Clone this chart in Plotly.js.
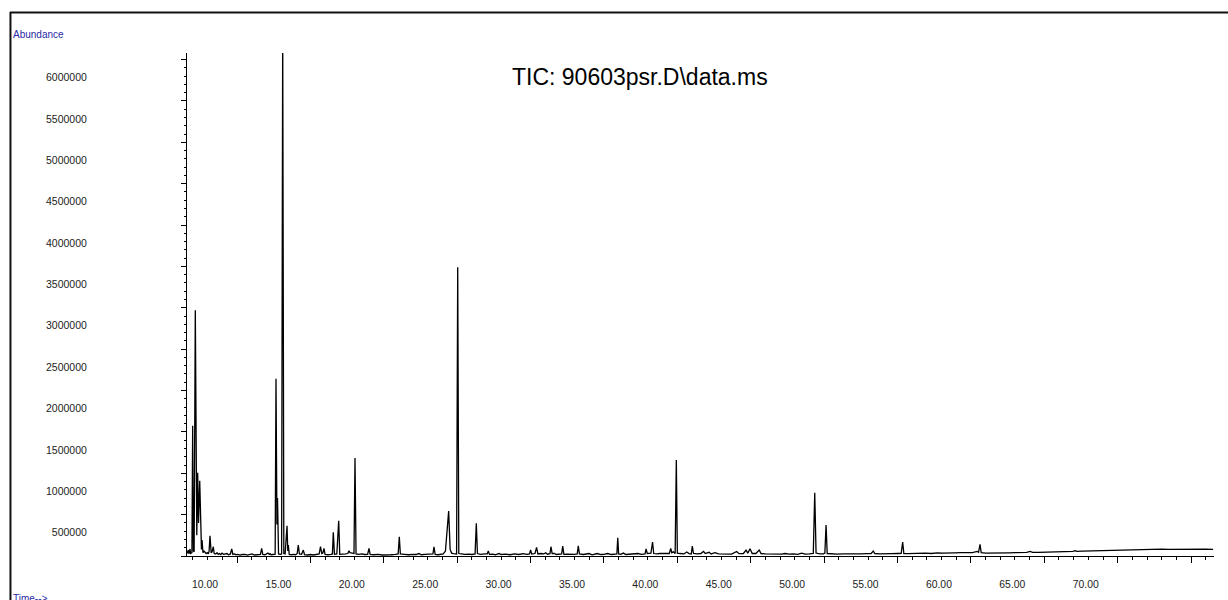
<!DOCTYPE html>
<html>
<head>
<meta charset="utf-8">
<script src="https://cdn.plot.ly/plotly-3.0.1.min.js"></script>
<style>
html,body{margin:0;padding:0;background:#fff;}
#chart{width:1228px;height:600px;}
</style>
</head>
<body>
<div id="chart"></div>
<script>
// Retention time (min)
const retentionTime = [
6.60,6.64,6.68,6.72,6.76,6.80,6.84,6.93,6.98,7.03,7.08,7.16,7.22,7.26,7.32,7.38,7.46,7.53,7.58,7.62,7.68,7.75,7.82,7.90,7.98,
8.05,8.10,8.16,8.24,8.30,8.385,8.45,8.55,8.64,8.72,8.80,8.90,8.98,9.08,9.18,9.32,9.42,9.55,9.64,9.72,9.85,9.93,
10.05,10.2,10.35,10.55,10.7,10.85,11.02,11.2,11.4,11.6,11.68,11.76,11.9,12.05,12.11,12.2,12.25,12.33,12.45,
12.60,12.657,12.72,12.76,12.83,12.95,13.04,13.114,13.19,13.28,13.407,13.46,13.495,13.56,13.7,13.85,14.0,14.1,14.176,14.25,14.4,14.517,14.6,14.8,
15.0,15.2,15.4,15.6,15.689,15.78,15.85,15.927,16.0,16.2,16.4,16.5,16.561,16.64,16.8,16.929,17.0,17.2,17.4,17.55,17.63,17.7,17.85,17.97,18.039,18.11,
18.3,18.5,18.7,18.9,18.993,19.07,19.3,19.6,19.9,20.2,20.5,20.8,20.98,21.057,21.13,21.4,21.7,22.0,22.2,22.4,22.55,22.8,23.1,23.35,23.42,23.5,23.7,23.9,
24.05,24.2,24.42,24.52,24.62,24.75,24.96,25.037,25.11,25.3,25.5,25.8,26.0,26.22,26.304,26.38,26.6,26.85,27.05,27.12,27.2,27.4,27.6,27.85,28.0,28.3,28.6,28.9,
29.2,29.5,29.75,29.93,30.0,30.08,30.3,30.41,30.5,30.7,30.9,31.03,31.15,31.32,31.39,31.47,31.62,31.75,31.95,32.12,32.19,32.27,32.5,32.8,33.0,33.18,33.25,33.33,
33.6,33.98,34.2,34.53,34.8,35.0,35.26,35.5,35.75,35.88,35.94,36.0,36.15,36.32,36.5,36.8,37.05,37.32,37.55,37.8,37.87,37.95,38.2,38.31,38.39,38.6,38.8,39.0,
39.2,39.45,39.55,39.62,39.73,39.85,39.93,40.0,40.2,40.45,40.64,40.8,40.95,41.02,41.1,41.35,41.6,41.78,41.9,42.16,42.3,42.57,42.8,43.1,43.4,43.7,
44.04,44.2,44.5,44.68,44.8,44.95,45.1,45.35,45.58,45.7,46.0,46.4,46.8,47.1,47.34,47.6,47.9,48.2,48.47,48.7,49.0,49.26,49.36,49.45,49.7,49.95,50.05,50.13,50.21,
50.5,50.9,51.3,51.7,52.1,52.5,52.9,53.2,53.35,53.45,53.8,54.2,54.6,55.0,55.25,55.35,55.43,55.7,56.1,56.5,56.9,57.3,57.7,58.1,58.5,58.9,59.3,59.7,60.1,
60.42,60.52,60.62,60.7,61.0,61.4,61.8,62.2,62.6,63.0,63.4,63.8,64.03,64.2,64.6,65.0,65.4,65.8,66.2,66.6,66.95,67.09,67.2,67.6,68.0,68.4,68.8,69.2,69.6,
70.0,70.4,70.8,71.2,71.6,72.0,72.5,73.0,73.5,74.0,74.5,75.0,75.5,76.0,76.5
];
// Total ion current abundance
const abundance = [
30000,55000,72000,30000,40000,85000,30000,40000,1574000,60000,50000,2971000,300000,250000,1006000,400000,909000,120000,80000,193000,40000,60000,50000,30000,40000,
25000,60000,245000,40000,50000,112000,30000,25000,40000,20000,30000,18000,35000,20000,28000,30000,15000,25000,85000,20000,25000,15000,
20000,12000,18000,20000,12000,15000,25000,12000,18000,20000,93000,18000,15000,25000,35000,20000,28000,15000,20000,
22000,2141000,380000,700000,25000,20000,25000,6350000,30000,25000,366000,60000,133000,20000,15000,20000,15000,30000,133000,25000,20000,72000,15000,12000,
18000,12000,20000,25000,112000,30000,35000,93000,20000,15000,20000,25000,286000,20000,25000,426000,20000,18000,25000,30000,64000,40000,35000,30000,1184000,25000,
20000,25000,18000,20000,93000,20000,15000,20000,12000,18000,15000,20000,25000,233000,25000,20000,15000,20000,18000,30000,15000,20000,18000,25000,112000,20000,15000,20000,
25000,60000,543000,80000,35000,30000,25000,3490000,30000,25000,20000,22000,18000,25000,395000,30000,20000,25000,25000,60000,20000,22000,15000,30000,18000,22000,15000,25000,
18000,28000,20000,25000,72000,25000,30000,105000,25000,30000,25000,40000,22000,28000,112000,30000,30000,18000,22000,25000,121000,20000,22000,18000,20000,25000,124000,25000,
18000,30000,15000,30000,18000,20000,30000,18000,22000,25000,221000,25000,20000,35000,18000,22000,18000,30000,20000,25000,85000,30000,35000,169000,30000,25000,30000,30000,
22000,30000,93000,40000,50000,30000,1159000,35000,30000,25000,48000,30000,25000,121000,30000,25000,30000,55000,30000,45000,25000,40000,25000,22000,28000,22000,
55000,28000,30000,70000,35000,88000,30000,30000,72000,30000,25000,22000,28000,22000,30000,22000,25000,20000,35000,22000,25000,30000,765000,35000,25000,25000,35000,374000,30000,
25000,22000,25000,22000,28000,25000,28000,30000,60000,30000,25000,30000,28000,30000,32000,169000,30000,28000,32000,30000,35000,30000,38000,35000,40000,38000,40000,42000,42000,
55000,45000,141000,40000,35000,38000,36000,40000,38000,40000,42000,45000,55000,45000,45000,48000,46000,50000,48000,52000,55000,65000,55000,58000,60000,62000,64000,66000,70000,
72000,75000,78000,80000,80000,82000,80000,82000,80000,82000,80000,81000,80000,82000,80000
];
const xTickVals = [10,15,20,25,30,35,40,45,50,55,60,65,70,75];
const xTickText = ["10.00","15.00","20.00","25.00","30.00","35.00","40.00","45.00","50.00","55.00","60.00","65.00","70.00",""];
const yTickVals = [0,500000,1000000,1500000,2000000,2500000,3000000,3500000,4000000,4500000,5000000,5500000,6000000];
const yTickText = ["","500000","1000000","1500000","2000000","2500000","3000000","3500000","4000000","4500000","5000000","5500000","6000000"];
const titleText = "TIC: 90603psr.D\\data.ms";
const yLabelText = "Abundance";
const xLabelText = "Time-->";

const FONT = "Liberation Sans, Arial, Helvetica, sans-serif";
const BLUE = "#2a2aa6";

const trace = {
  x: retentionTime, y: abundance, type: "scatter", mode: "lines",
  line: {color: "#000", width: 1.3}, hoverinfo: "skip"
};

const layout = {
  width: 1228, height: 600,
  margin: {l: 187, r: 14, t: 53, b: 44, pad: 0},
  paper_bgcolor: "#fff", plot_bgcolor: "#fff",
  showlegend: false,
  font: {family: FONT, color: "#222", size: 10},
  xaxis: {
    range: [6.594, 76.56], showgrid: false, zeroline: false,
    showline: true, linecolor: "#000", linewidth: 1,
    ticks: "outside", ticklen: 6, tickcolor: "#000", tickwidth: 1,
    tickmode: "array", tickvals: xTickVals, ticktext: xTickText,
    ticklabelshift: -32, ticklabelstandoff: 13,
    tickfont: {family: FONT, size: 10.4, color: "#222"},
    minor: {ticks: "outside", ticklen: 3, tickcolor: "#000", dtick: 1, tick0: 0, showgrid: false}
  },
  yaxis: {
    range: [0, 6080000], showgrid: false, zeroline: false,
    showline: true, linecolor: "#000", linewidth: 1,
    ticks: "outside", ticklen: 5, tickcolor: "#000", tickwidth: 1,
    tickmode: "array", tickvals: yTickVals, ticktext: yTickText,
    ticklabelshift: 18, ticklabelstandoff: 92,
    tickfont: {family: FONT, size: 10.5, color: "#222"},
    minor: {ticks: "outside", ticklen: 2.5, tickcolor: "#000", dtick: 100000, tick0: 0, showgrid: false}
  },
  annotations: [
    {text: titleText, xref: "paper", yref: "paper", x: 0.441, y: 0.952,
     xanchor: "center", yanchor: "middle", showarrow: false,
     font: {family: FONT, size: 23, color: "#000"}},
    {text: yLabelText, xref: "paper", yref: "paper", x: -0.1714, y: 1.0358,
     xanchor: "left", yanchor: "middle", showarrow: false,
     font: {family: FONT, size: 10, color: BLUE}},
    {text: xLabelText, xref: "paper", yref: "paper", x: -0.1714, y: -0.0835,
     xanchor: "left", yanchor: "middle", showarrow: false,
     font: {family: FONT, size: 10, color: BLUE}}
  ],
  shapes: [
    {type: "line", xref: "paper", yref: "paper", x0: -0.1724, x1: 1.05, y0: 1.0805, y1: 1.0805,
     line: {color: "#111", width: 2}},
    {type: "line", xref: "paper", yref: "paper", x0: -0.1719, x1: -0.1719, y0: 1.0815, y1: -0.15,
     line: {color: "#111", width: 2}}
  ]
};

Plotly.newPlot("chart", [trace], layout, {displayModeBar: false, staticPlot: true});
</script>
</body>
</html>
